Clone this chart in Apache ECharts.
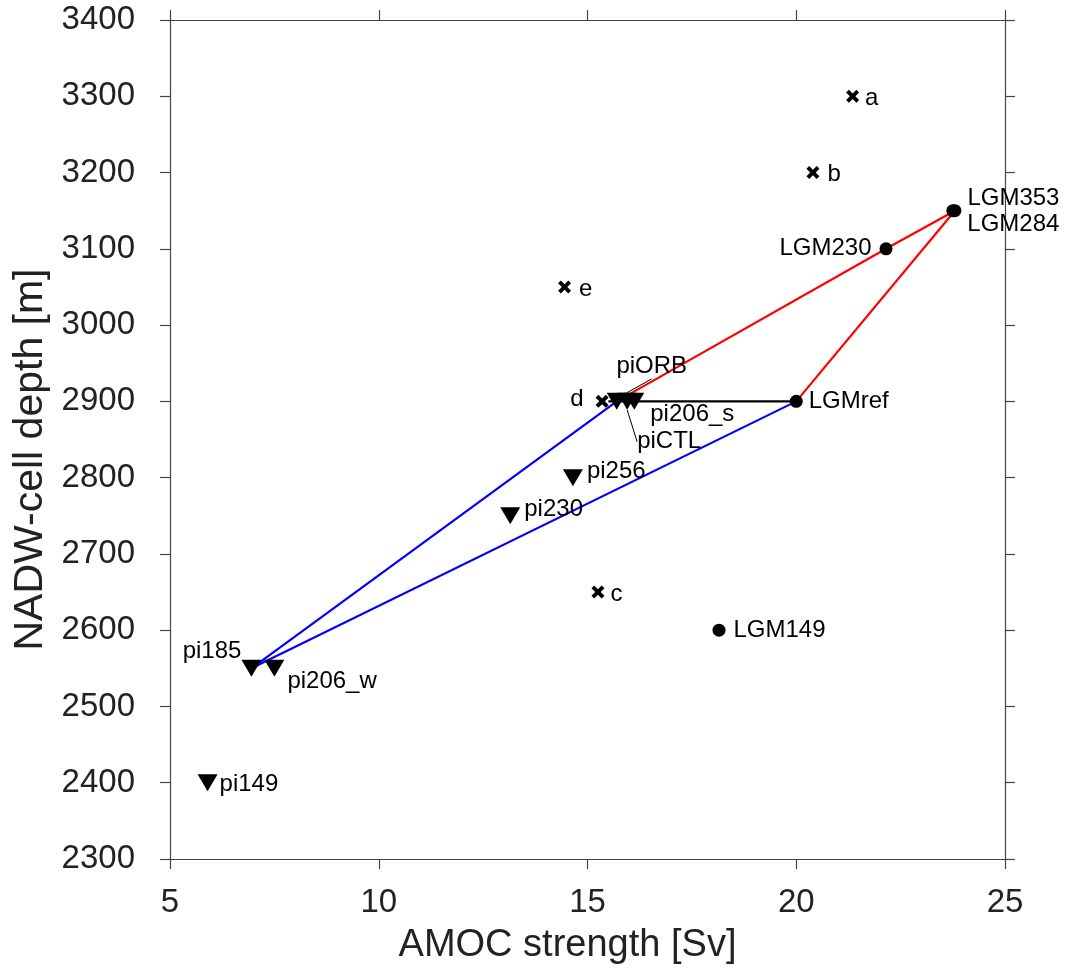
<!DOCTYPE html>
<html>
<head>
<meta charset="utf-8">
<script src="https://cdn.jsdelivr.net/npm/echarts@6/dist/echarts.min.js"></script>
<style>
html,body{margin:0;padding:0;background:#fff;}
#chart{width:1068px;height:973px;}
</style>
</head>
<body>
<div id="chart"></div>
<script>
// ---- data ----
const lgmNames = ['LGMref', 'LGM230', 'LGM353', 'LGM284', 'LGM149'];
const lgmX = [20.0, 22.15, 23.8, 23.75, 18.15];
const lgmY = [2900, 3100, 3150, 3150, 2600];

const piNames = ['piORB', 'piCTL', 'pi206_s', 'pi256', 'pi230', 'pi185', 'pi206_w', 'pi149'];
const piX = [15.7, 15.95, 16.12, 14.65, 13.15, 6.95, 7.5, 5.9];
const piY = [2900, 2900, 2900, 2800, 2750, 2550, 2550, 2400];

const sensNames = ['a', 'b', 'c', 'd', 'e'];
const sensX = [21.35, 20.4, 15.25, 15.35, 14.45];
const sensY = [3300, 3200, 2650, 2900, 3050];

const xTicks = [5, 10, 15, 20, 25];
const yTicks = [2300, 2400, 2500, 2600, 2700, 2800, 2900, 3000, 3100, 3200, 3300, 3400];

// connecting lines (by point name)
const blueLinks = [['pi185', 'piORB'], ['pi185', 'LGMref']];
const redPath = ['piORB', 'LGM230', 'LGM353', 'LGMref'];
const blackLine = [[15.5, 2900], [20.0, 2900]];

// ---- helpers ----
const pts = {};
lgmNames.forEach((n, i) => pts[n] = [lgmX[i], lgmY[i]]);
piNames.forEach((n, i) => pts[n] = [piX[i], piY[i]]);
sensNames.forEach((n, i) => pts[n] = [sensX[i], sensY[i]]);

const FONT = 'Liberation Sans, Arial, sans-serif';
const labelPos = {
  LGMref: {position: 'right', offset: [-2, 0]},
  LGM230: {position: 'left', offset: [0, 0]},
  LGM353: {position: 'right', offset: [-2, -12]},
  LGM284: {position: 'right', offset: [0, 14]},
  LGM149: {position: 'right', offset: [0, 0]},
  piORB: {position: 'top', offset: [0, 0]},
  piCTL: {position: 'bottom', offset: [0, 0]},
  pi206_s: {position: 'right', offset: [-2, 13]},
  pi256: {position: 'right', offset: [-4, -6]},
  pi230: {position: 'right', offset: [-4, -6]},
  pi185: {position: 'left', offset: [8, -17]},
  pi206_w: {position: 'right', offset: [-5, 13]},
  pi149: {position: 'right', offset: [-6, 2]},
  a: {position: 'right', offset: [-2, 2]},
  b: {position: 'right', offset: [0, 2]},
  c: {position: 'right', offset: [-2, 2]},
  d: {position: 'left', offset: [-4, -2]},
  e: {position: 'right', offset: [0, 2]}
};
const leader = {piORB: [35, -6], piCTL: [42, 12]};

function items(names, xs, ys) {
  return names.map((n, i) => {
    const lp = labelPos[n];
    const it = {
      name: n, value: [xs[i], ys[i]],
      label: {show: true, formatter: n, position: lp.position, offset: lp.offset, distance: 8}
    };
    if (leader[n]) it.labelLine = {show: true, lineStyle: {color: '#000', width: 1}};
    return it;
  });
}

const labelStyle = {color: '#000', fontSize: 24, fontFamily: FONT};

const crossPath = 'path://M3,0 L7,4 L11,0 L14,3 L10,7 L14,11 L11,14 L7,10 L3,14 L0,11 L4,7 L0,3 Z';
const triPath = 'path://M0,0 L20,0 L10,17 Z';

const chart = echarts.init(document.getElementById('chart'), null, {renderer: 'canvas'});

const axisLineStyle = {color: '#444', width: 1.2};

chart.setOption({
  backgroundColor: '#fff',
  animation: false,
  grid: {left: 170, right: 63, top: 20, bottom: 114, containLabel: false},
  xAxis: [{
    type: 'value', min: xTicks[0], max: xTicks[xTicks.length - 1], interval: 5,
    name: 'AMOC strength [Sv]', nameLocation: 'middle', nameGap: 68,
    nameTextStyle: {fontSize: 38, fontFamily: FONT, color: '#222', padding: [0, 40, 0, 0]},
    axisLine: {show: true, onZero: false, lineStyle: axisLineStyle},
    axisTick: {show: true, length: 10, inside: false, lineStyle: axisLineStyle},
    axisLabel: {fontSize: 33, fontFamily: FONT, color: '#222', margin: 27},
    splitLine: {show: false}
  }, {
    type: 'value', position: 'top', min: xTicks[0], max: xTicks[xTicks.length - 1], interval: 5,
    axisLine: {show: true, onZero: false, lineStyle: axisLineStyle},
    axisTick: {show: true, length: 10, inside: false, lineStyle: axisLineStyle},
    axisLabel: {show: false}, splitLine: {show: false}
  }],
  yAxis: [{
    type: 'value', min: yTicks[0], max: yTicks[yTicks.length - 1], interval: 100,
    name: 'NADW-cell depth [m]', nameLocation: 'middle', nameGap: 112,
    nameTextStyle: {fontSize: 41, fontFamily: FONT, color: '#222', padding: [0, 40, 0, 0]},
    axisLine: {show: true, onZero: false, lineStyle: axisLineStyle},
    axisTick: {show: true, length: 10, inside: false, lineStyle: axisLineStyle},
    axisLabel: {fontSize: 33, fontFamily: FONT, color: '#222', margin: 35, formatter: v => String(v)},
    splitLine: {show: false}
  }, {
    type: 'value', position: 'right', min: yTicks[0], max: yTicks[yTicks.length - 1], interval: 100,
    axisLine: {show: true, onZero: false, lineStyle: axisLineStyle},
    axisTick: {show: true, length: 10, inside: false, lineStyle: axisLineStyle},
    axisLabel: {show: false}, splitLine: {show: false}
  }],
  series: [
    ...blueLinks.map(l => ({
      type: 'line', data: [pts[l[0]], pts[l[1]]], symbol: 'none', silent: true,
      lineStyle: {color: '#0000ff', width: 2.2}, z: 2
    })),
    {
      type: 'line', data: redPath.map(n => pts[n]), symbol: 'none', silent: true,
      lineStyle: {color: '#ff0000', width: 2.2}, z: 3
    },
    {
      type: 'line', data: blackLine, symbol: 'none', silent: true,
      lineStyle: {color: '#000', width: 2.2}, z: 3
    },
    {
      type: 'scatter', data: items(lgmNames, lgmX, lgmY), symbol: 'circle', symbolSize: 13,
      itemStyle: {color: '#000', opacity: 1}, label: labelStyle, z: 5
    },
    {
      type: 'scatter', data: items(sensNames, sensX, sensY), symbol: crossPath, symbolSize: 13,
      itemStyle: {color: '#000', opacity: 1}, label: labelStyle, z: 5
    },
    {
      type: 'scatter', data: items(piNames, piX, piY), symbol: triPath, symbolSize: [20, 17],
      itemStyle: {color: '#000', opacity: 1}, label: labelStyle, z: 5,
      labelLayout: function (p) {
        const n = piNames[p.dataIndex];
        if (leader[n]) return {dx: leader[n][0], dy: leader[n][1]};
        const o = labelPos[n].offset;
        return {dx: o[0], dy: o[1]};
      }
    }
  ]
});
</script>
</body>
</html>
